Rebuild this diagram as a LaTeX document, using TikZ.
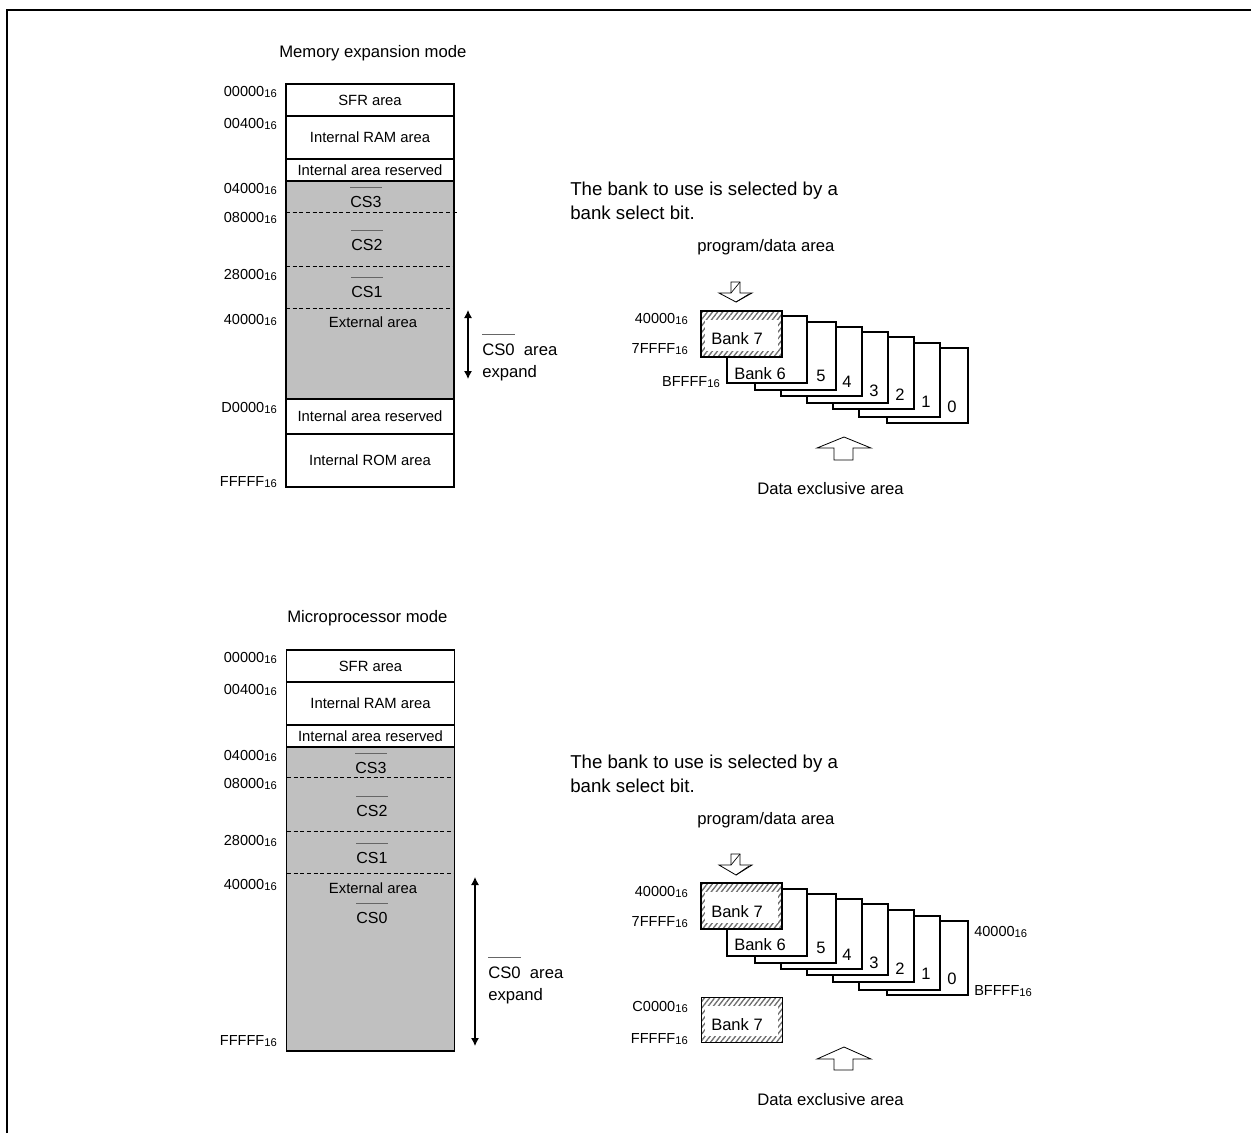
\documentclass[tikz,border=0pt]{standalone}
\usepackage{xcolor}
\usepackage{fontspec}
\setmainfont{Liberation Sans}
\usetikzlibrary{arrows.meta,positioning,patterns.meta}
\definecolor{areagray}{RGB}{192,192,192}
\definecolor{hatchgray}{RGB}{110,110,110}
\newcommand{\hexaddr}[1]{#1{\fontsize{8.4pt}{8pt}\selectfont\raisebox{-0.4pt}{16}}}
\newcommand{\csbar}[1]{\sbox0{#1}\rlap{\smash{\textcolor{black!60}{\rule[1.22em]{\wd0}{0.5pt}}}}\box0}
\tikzset{
  x=0.75pt,
  y=-0.75pt,
  areablock/.style={
    rectangle,
    draw=black,
    line width=0.8pt,
    outer sep=0pt,
    inner sep=0pt,
    minimum width=126pt,
    align=center,
    anchor=north,
    font=\fontsize{11.1pt}{13pt}\selectfont
  },
  grayblock/.style={areablock, fill=areagray},
  addrlabel/.style={
    anchor=east,
    inner sep=0pt,
    yshift=-0.75pt,
    font=\fontsize{10.9pt}{12pt}\selectfont
  },
  plaintext/.style={
    anchor=west,
    inner sep=0pt,
    align=left,
    font=\fontsize{12.5pt}{16.5pt}\selectfont
  },
  notetext/.style={
    plaintext,
    font=\fontsize{14pt}{18pt}\selectfont
  },
  arealabel/.style={
    inner sep=0pt,
    font=\fontsize{11.1pt}{13pt}\selectfont
  },
  cslabel/.style={
    inner sep=0pt,
    font=\fontsize{12pt}{14pt}\selectfont
  },
  bankcard/.style={draw=black, line width=0.8pt, fill=white},
  banknum/.style={inner sep=0pt, yshift=-0.75pt, font=\fontsize{12.4pt}{14pt}\selectfont},
  hatchcard/.style={
    draw=black,
    line width=0.8pt,
    preaction={fill=white},
    pattern={Lines[angle=52,distance=3pt,line width=1pt]},
    pattern color=hatchgray
  },
  hatchinner/.style={fill=white, draw=none},
  dashline/.style={draw=black, line width=0.7pt, dash pattern=on 3pt off 2pt},
  bigarrow/.style={draw=black, line width=0.6pt, fill=white, line join=miter},
  expandarrow/.style={{Latex[length=6pt,width=6pt]}-{Latex[length=6pt,width=6pt]}, draw=black, line width=0.8pt}
}
\begin{document}
\begin{tikzpicture}
\useasboundingbox (0,0) rectangle (1251,1133);

% frame
\draw[line width=1.6pt] (7,1133) -- (7,10) -- (1251,10);

% memory expansion mode
\node[plaintext] (titleA) at (279,53) {Memory expansion mode};
\node[areablock, minimum height=24pt] (sfrA) at (370,84) {SFR area};
\node[areablock, minimum height=32.25pt, below=0pt of sfrA] (ramA) {Internal RAM area};
\node[areablock, minimum height=16.5pt, below=0pt of ramA] (resA) {Internal area reserved};
\node[grayblock, minimum height=163.5pt, below=0pt of resA] (extA) {};
\node[areablock, minimum height=26.25pt, below=0pt of extA] (res2A) {Internal area reserved};
\node[areablock, minimum height=39.75pt, below=0pt of res2A] (romA) {Internal ROM area};

\draw[dashline] (286,212) -- (457,212);
\draw[dashline] (286,266) -- (454,266);
\draw[dashline] (286,308) -- (454,308);

\node[cslabel] (cs3A) at (366,202) {\csbar{CS3}};
\node[cslabel] (cs2A) at (367,245) {\csbar{CS2}};
\node[cslabel] (cs1A) at (367,292) {\csbar{CS1}};
\node[arealabel] (extlabelA) at (373,322) {External area};

\node[addrlabel] (a00000A) at (277,91) {\hexaddr{00000}};
\node[addrlabel] (a00400A) at (277,123) {\hexaddr{00400}};
\node[addrlabel] (a04000A) at (277,188) {\hexaddr{04000}};
\node[addrlabel] (a08000A) at (277,217) {\hexaddr{08000}};
\node[addrlabel] (a28000A) at (277,274) {\hexaddr{28000}};
\node[addrlabel] (a40000A) at (277,319) {\hexaddr{40000}};
\node[addrlabel] (aD0000A) at (277,407) {\hexaddr{D0000}};
\node[addrlabel] (aFFFFFA) at (277,481) {\hexaddr{FFFFF}};

\coordinate (expA1) at (468,310);
\coordinate (expA2) at (468,379);
\draw[expandarrow] (expA1) -- (expA2);
\node[plaintext] (expandA) at (482,362) {\csbar{CS0}\ \ area\\expand};

\node[notetext] (noteA) at (570,201) {The bank to use is selected by a\\bank select bit.};
\node[plaintext] (progA) at (697,247) {program/data area};

\draw[bigarrow] (731,282) -- (740,282) -- (740,293) -- (752,293) -- (736,302) -- (719,293) -- (731,293) -- cycle;
\draw[line width=0.5pt] (731,293) -- (740,282);
\draw[line width=0.5pt] (736,302) -- (749,294);

\foreach \n/\l/\t/\r/\b in {0/887/348/968/423,1/859/343/940/417,2/833/337/914/409,3/807/332/888/403,4/781/327/862/396,5/755/322/836/390}{
  \draw[bankcard] (\l,\t) rectangle (\r,\b);
}
\foreach \n/\x/\y in {0/952/406,1/926/401,2/900/394,3/874/390,4/847/381,5/821/375}{
  \node[banknum] (numA\n) at (\x,\y) {\n};
}
\draw[bankcard] (727,316) rectangle (807,383);
\node[banknum] (bank6A) at (760,373) {Bank 6};
\draw[hatchcard] (701,311) rectangle (782,357);
\fill[hatchinner] (705,320) rectangle (778,351);
\node[banknum] (bank7A) at (737,338) {Bank 7};

\node[addrlabel] (b40000A) at (688,318) {\hexaddr{40000}};
\node[addrlabel] (b7FFFFA) at (688,348) {\hexaddr{7FFFF}};
\node[addrlabel] (bBFFFFA) at (720,381) {\hexaddr{BFFFF}};

\draw[bigarrow] (844,437) -- (871,448) -- (853,448) -- (853,460) -- (834,460) -- (834,448) -- (817,448) -- cycle;
\node[plaintext] (dataA) at (757,489) {Data exclusive area};

% microprocessor mode
\node[plaintext] (titleB) at (287,618) {Microprocessor mode};
\node[areablock, minimum height=24pt] (sfrB) at (370.5,650) {SFR area};
\node[areablock, minimum height=32.25pt, below=0pt of sfrB] (ramB) {Internal RAM area};
\node[areablock, minimum height=16.5pt, below=0pt of ramB] (resB) {Internal area reserved};
\node[grayblock, minimum height=228pt, below=0pt of resB] (extB) {};

\draw[dashline] (287,777) -- (454,777);
\draw[dashline] (287,831) -- (454,831);
\draw[dashline] (287,873) -- (454,873);

\node[cslabel] (cs3B) at (371,768) {\csbar{CS3}};
\node[cslabel] (cs2B) at (372,811) {\csbar{CS2}};
\node[cslabel] (cs1B) at (372,858) {\csbar{CS1}};
\node[arealabel] (extlabelB) at (373,888) {External area};
\node[cslabel] (cs0B) at (372,918) {\csbar{CS0}};

\node[addrlabel] (a00000B) at (277,657) {\hexaddr{00000}};
\node[addrlabel] (a00400B) at (277,689) {\hexaddr{00400}};
\node[addrlabel] (a04000B) at (277,755) {\hexaddr{04000}};
\node[addrlabel] (a08000B) at (277,783) {\hexaddr{08000}};
\node[addrlabel] (a28000B) at (277,840) {\hexaddr{28000}};
\node[addrlabel] (a40000B) at (277,884) {\hexaddr{40000}};
\node[addrlabel] (aFFFFFB) at (277,1040) {\hexaddr{FFFFF}};

\coordinate (expB1) at (475,877);
\coordinate (expB2) at (475,1046);
\draw[expandarrow] (expB1) -- (expB2);
\node[plaintext] (expandB) at (488,985) {\csbar{CS0}\ \ area\\expand};

\node[notetext] (noteB) at (570,774) {The bank to use is selected by a\\bank select bit.};
\node[plaintext] (progB) at (697,820) {program/data area};

\draw[bigarrow] (731,854) -- (740,854) -- (740,865) -- (752,865) -- (736,875) -- (719,865) -- (731,865) -- cycle;
\draw[line width=0.5pt] (731,865) -- (740,854);
\draw[line width=0.5pt] (736,875) -- (749,866);

\foreach \n/\l/\t/\r/\b in {0/887/921/968/995,1/859/916/940/990,2/833/910/914/982,3/807/904/888/975,4/781/899/862/969,5/755/894/836/963}{
  \draw[bankcard] (\l,\t) rectangle (\r,\b);
}
\foreach \n/\x/\y in {0/952/978,1/926/973,2/900/968,3/874/962,4/847/954,5/821/947}{
  \node[banknum] (numB\n) at (\x,\y) {\n};
}
\draw[bankcard] (727,889) rectangle (807,956);
\node[banknum] (bank6B) at (760,944) {Bank 6};
\draw[hatchcard] (701,883) rectangle (782,929);
\fill[hatchinner] (705,892) rectangle (778,923);
\node[banknum] (bank7B) at (737,911) {Bank 7};
\draw[hatchcard, line width=0.6pt] (701,997) rectangle (782,1042);
\fill[hatchinner] (705,1006) rectangle (778,1036);
\node[banknum] (bank7C) at (737,1024) {Bank 7};

\node[addrlabel] (b40000B) at (688,891) {\hexaddr{40000}};
\node[addrlabel] (b7FFFFB) at (688,921) {\hexaddr{7FFFF}};
\node[addrlabel] (bC0000B) at (688,1006) {\hexaddr{C0000}};
\node[addrlabel] (bFFFFFB) at (688,1038) {\hexaddr{FFFFF}};
\node[addrlabel, anchor=west] (r40000B) at (974,931) {\hexaddr{40000}};
\node[addrlabel, anchor=west] (rBFFFFB) at (974,990) {\hexaddr{BFFFF}};

\draw[bigarrow] (844,1047) -- (871,1059) -- (853,1059) -- (853,1070) -- (834,1070) -- (834,1059) -- (817,1059) -- cycle;
\node[plaintext] (dataB) at (757,1100) {Data exclusive area};
\end{tikzpicture}
\end{document}
